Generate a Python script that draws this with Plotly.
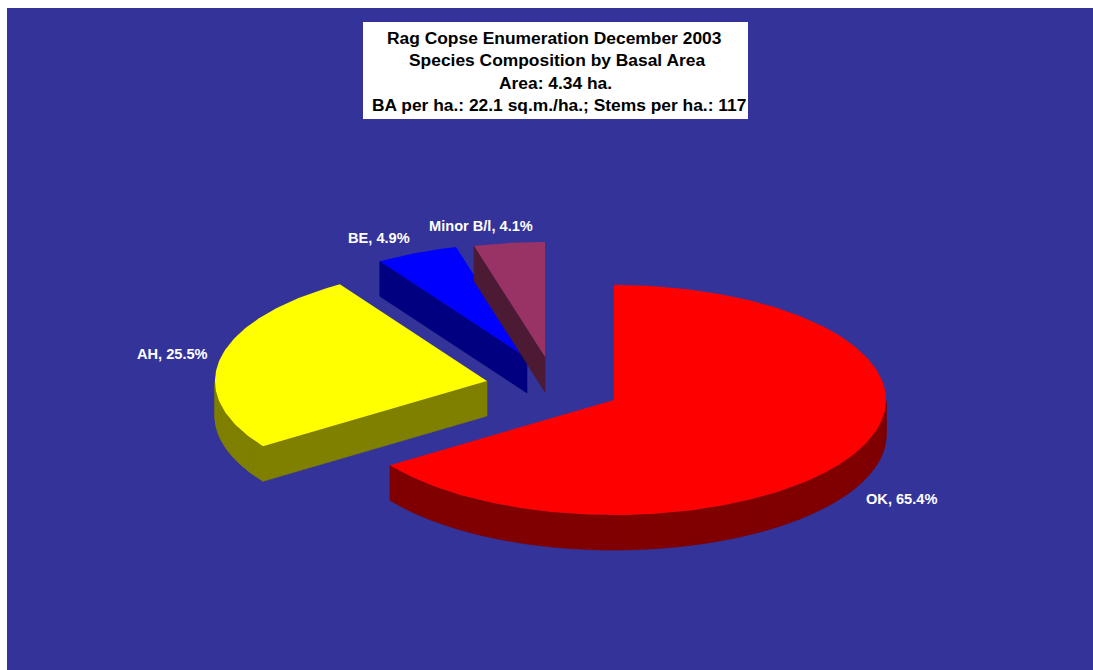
import math
import plotly.graph_objects as go

# ---- data ----
categories = ["OK", "AH", "BE", "Minor B/l"]
percent_values = [65.4, 25.5, 4.9, 4.1]
title_lines = [
    "Rag Copse Enumeration December 2003",
    "Species Composition by Basal Area",
    "Area: 4.34 ha.",
    "BA per ha.: 22.1 sq.m./ha.; Stems per ha.: 117",
]

# ---- styling / layout ----
top_colors = ["#FF0000", "#FFFF00", "#0000FF", "#993366"]
wall_colors = ["#800000", "#808000", "#000080", "#4D1A33"]
apex_x = [614, 487, 527, 545]
apex_y = [400, 381, 358, 357]
label_x = [901, 172, 379, 481]
label_y = [499, 354, 238, 226]
title_x = [554, 557, 555, 559]
title_y = [38, 60, 83, 105]
RX, RY, DEPTH = 272, 115, 35
W, H = 1093, 670
BG = "#333399"
FONT = "Liberation Sans, Arial, sans-serif"


def outline(cx, cy, start, end):
    """Apex then rim, clockwise on screen; angles in degrees from 12 o'clock."""
    steps = max(2, int((end - start) / 1.0))
    pts = [(cx, cy)]
    for i in range(steps + 1):
        a = math.radians(start + (end - start) * i / steps)
        pts.append((cx + RX * math.sin(a), cy - RY * math.cos(a)))
    return pts


fig = go.Figure()
angle = 0.0
for i, v in enumerate(percent_values):
    # the printed percentages are rounded: the last slice closes the circle
    end = 360.0 if i == len(percent_values) - 1 else angle + 3.6 * v
    pts = outline(apex_x[i], apex_y[i], angle, end)
    angle = end
    closed = pts + [pts[0]]
    wx, wy = [], []
    for (x0, y0), (x1, y1) in zip(closed[:-1], closed[1:]):
        if x1 < x0:  # only edges facing the viewer show a wall
            wx += [x0, x1, x1, x0, x0, None]
            wy += [y0, y1, y1 + DEPTH, y0 + DEPTH, y0, None]
    fig.add_trace(go.Scatter(x=wx, y=wy, mode="lines", fill="toself",
                             fillcolor=wall_colors[i], line=dict(width=0.6, color=wall_colors[i]),
                             hoverinfo="skip", showlegend=False))
    fig.add_trace(go.Scatter(x=[p[0] for p in closed], y=[p[1] for p in closed],
                             mode="lines", fill="toself", fillcolor=top_colors[i],
                             line=dict(width=0), name=categories[i], showlegend=False))

annotations = []
for c, v, x, y in zip(categories, percent_values, label_x, label_y):
    annotations.append(dict(x=x, y=y, xref="x", yref="y", text=f"<b>{c}, {v}%</b>", showarrow=False,
                            xanchor="center", yanchor="middle",
                            font=dict(family=FONT, size=14.6, color="white")))
for t, x, y in zip(title_lines, title_x, title_y):
    annotations.append(dict(x=x, y=y, xref="x", yref="y", text=f"<b>{t}</b>", showarrow=False,
                            xanchor="center", yanchor="middle",
                            font=dict(family=FONT, size=17.4, color="black")))

axis = dict(visible=False, fixedrange=True, showgrid=False, zeroline=False)
fig.update_layout(
    width=W, height=H,
    margin=dict(l=0, r=0, t=0, b=0),
    paper_bgcolor="white", plot_bgcolor="white",
    xaxis=dict(range=[0, W], **axis),
    yaxis=dict(range=[H, 0], **axis),
    annotations=annotations,
    shapes=[
        dict(type="rect", xref="x", yref="y", x0=7, x1=W, y0=8, y1=H,
             fillcolor=BG, line_width=0, layer="below"),
        dict(type="rect", xref="x", yref="y", x0=363, x1=748, y0=22, y1=119,
             fillcolor="white", line_width=0, layer="below"),
    ],
)
fig.write_html("out.html", config=dict(displayModeBar=False),
               post_script="document.body.style.margin='0';document.documentElement.style.overflow='hidden';")
